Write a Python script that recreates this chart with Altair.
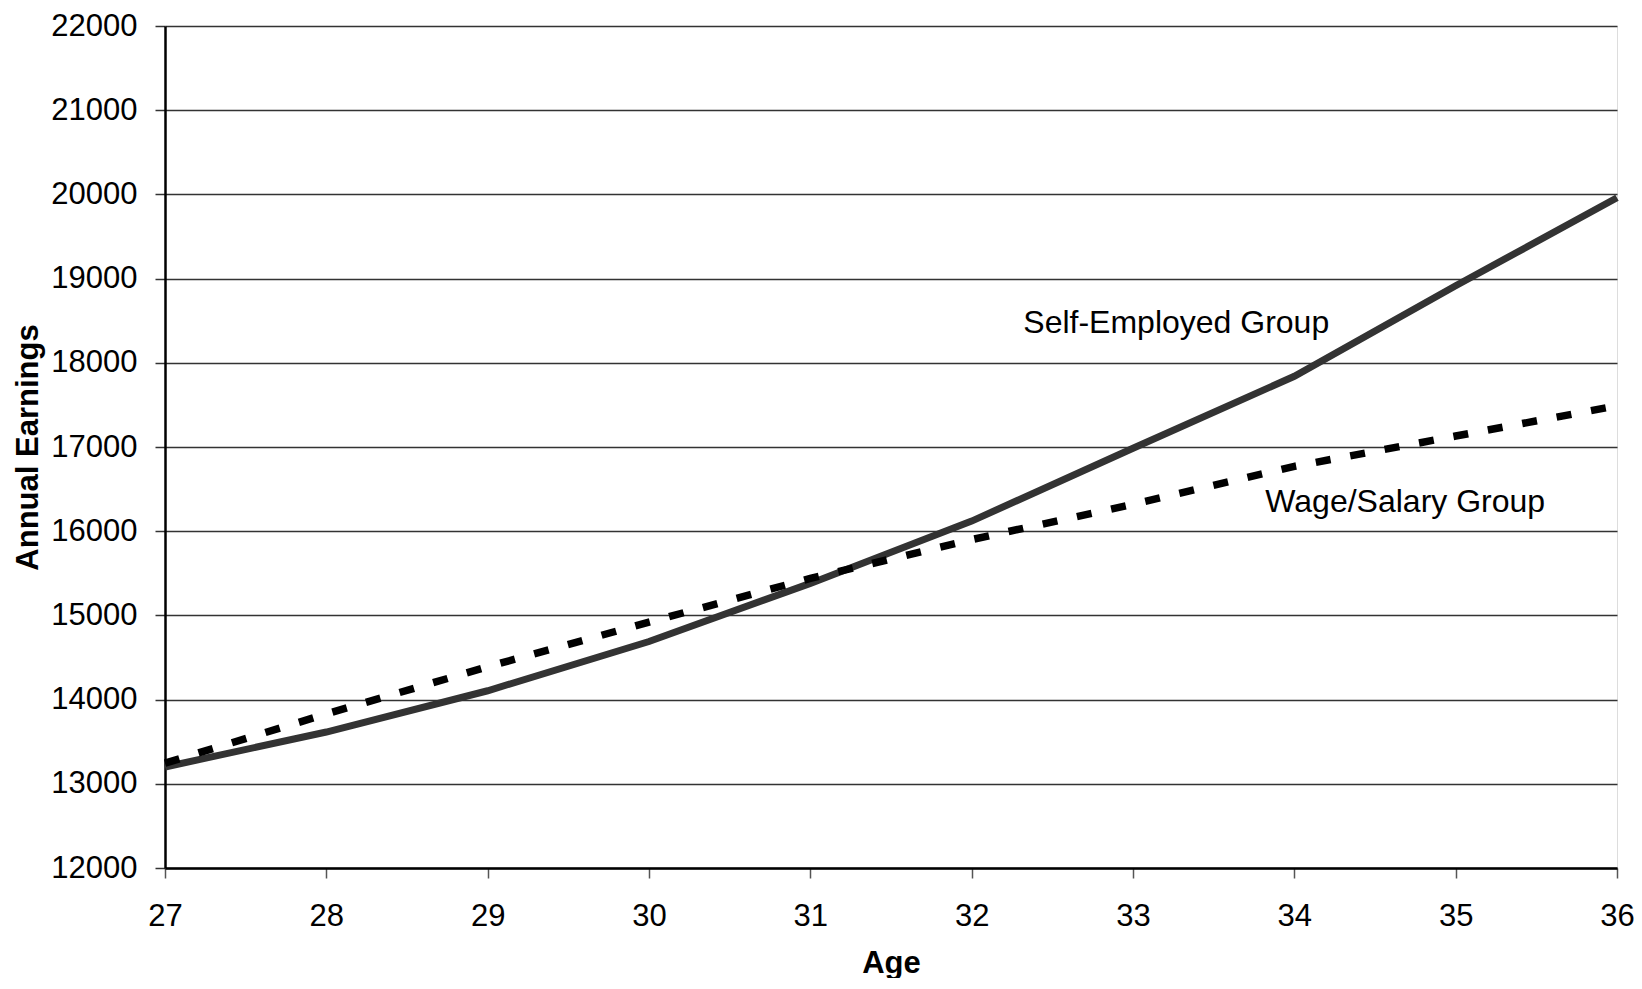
import altair as alt
import pandas as pd

ages = [27, 28, 29, 30, 31, 32, 33, 34, 35, 36]
self_employed = [13200, 13615, 14105, 14690, 15380, 16120, 16985, 17840, 18915, 19960]
wage_salary = [13245, 13830, 14390, 14920, 15440, 15900, 16320, 16770, 17130, 17490]

label_text = ["Self-Employed Group", "Wage/Salary Group"]
label_age = [32.32, 33.82]
label_value = [18358, 16231]

x_ticks = list(range(27, 37))
y_ticks = list(range(12000, 22001, 1000))

FONT = "Liberation Sans"

df_self = pd.DataFrame({"age": ages, "earn": self_employed})
df_wage = pd.DataFrame({"age": ages, "earn": wage_salary})
df_lab = pd.DataFrame({"text": label_text, "age": label_age, "earn": label_value})

x_enc = alt.X(
    "age:Q",
    scale=alt.Scale(domain=[27, 36], nice=False, zero=False),
    axis=alt.Axis(
        values=x_ticks, format="d", title="Age", grid=False,
        labelFont=FONT, labelFontSize=31, labelColor="black", labelPadding=23,
        labelFlush=False, labelOverlap=False,
        tickSize=10, tickColor="#555555", tickWidth=1.5,
        domainColor="black", domainWidth=2.5,
        titleFont=FONT, titleFontSize=31, titleFontWeight="bold", titleColor="black",
        titlePadding=17,
    ),
)
y_enc = alt.Y(
    "earn:Q",
    scale=alt.Scale(domain=[12000, 22000], nice=False, zero=False),
    axis=alt.Axis(
        values=y_ticks, format="d", title="Annual Earnings", grid=True,
        gridColor="#333333", gridWidth=1.3,
        labelFont=FONT, labelFontSize=31, labelColor="black", labelPadding=18,
        labelFlush=False, labelOverlap=False,
        tickSize=10, tickColor="#333333", tickWidth=1.5,
        domainColor="black", domainWidth=2.5,
        titleFont=FONT, titleFontSize=31, titleFontWeight="bold", titleColor="black",
        titlePadding=6,
    ),
)

line_self = alt.Chart(df_self).mark_line(color="#333333", strokeWidth=7).encode(x=x_enc, y=y_enc)
line_wage = alt.Chart(df_wage).mark_line(color="black", strokeWidth=7.5, strokeDash=[15, 20]).encode(
    x="age:Q", y="earn:Q"
)
labels = alt.Chart(df_lab).mark_text(
    font=FONT, fontSize=32, color="black", align="left", baseline="alphabetic"
).encode(x="age:Q", y="earn:Q", text="text:N")

chart = (
    alt.layer(line_self, line_wage, labels)
    .properties(
        width=1452,
        height=842,
        autosize=alt.AutoSizeParams(type="none"),
        padding={"left": 157, "top": 18, "right": 17, "bottom": 110},
    )
    .configure_view(stroke="black", strokeWidth=2)
    .configure(background="white")
)

chart.save("out.html", embed_options={"renderer": "svg", "actions": False})
